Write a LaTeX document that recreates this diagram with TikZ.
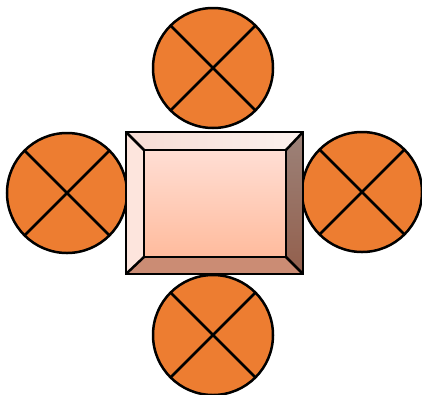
\documentclass[tikz,border=0pt]{standalone}
\usetikzlibrary{shapes.geometric}
\definecolor{orangefill}{HTML}{ED7D31}
\definecolor{topbev}{HTML}{F6DCD4}
\definecolor{leftbev}{HTML}{FDE5DD}
\definecolor{rightbevA}{HTML}{9C8279}
\definecolor{rightbevB}{HTML}{935F4C}
\definecolor{botbev}{HTML}{CB8C74}
\definecolor{innerA}{HTML}{FFDED4}
\definecolor{innerB}{HTML}{FFBB9D}
\tikzset{
  wheel/.style={circle, draw=black, fill=orangefill, line width=2.5pt, minimum size=120pt, inner sep=0pt, outer sep=0pt},
  xline/.style={draw=black, line width=2.5pt},
  bevel/.style={draw=black, line width=2.5pt, line join=miter},
}
\begin{document}
\begin{tikzpicture}[x=1pt,y=-1pt]
\useasboundingbox (0,0) rectangle (422,394);
\fill[white] (0,0) rectangle (422,394);
% wheels
\node[wheel] (top) at (213,68) {};
\node[wheel] (left) at (67,193) {};
\node[wheel] (right) at (362,192) {};
\node[wheel] (bottom) at (213,335) {};
\foreach \w in {top,left,right,bottom}{
  \draw[xline] (\w.north west) -- (\w.south east);
  \draw[xline] (\w.north east) -- (\w.south west);
}
% bevel box
\coordinate (A) at (126,132);
\coordinate (B) at (303,132);
\coordinate (C) at (303,274);
\coordinate (D) at (126,274);
\coordinate (a) at (144,150);
\coordinate (b) at (286,150);
\coordinate (c) at (286,257);
\coordinate (d) at (144,257);
\shade[left color=topbev, right color=topbev!40!white] (A) -- (B) -- (b) -- (a) -- cycle;
\fill[leftbev] (A) -- (a) -- (d) -- (D) -- cycle;
\shade[top color=rightbevA, bottom color=rightbevB] (B) -- (C) -- (c) -- (b) -- cycle;
\fill[botbev] (D) -- (d) -- (c) -- (C) -- cycle;
\shade[top color=innerA, bottom color=innerB] (a) rectangle (c);
\draw[bevel] (A) -- (B) -- (C) -- (D) -- cycle;
\draw[bevel] (a) -- (b) -- (c) -- (d) -- cycle;
\draw[bevel] (A) -- (a) (B) -- (b) (C) -- (c) (D) -- (d);
\end{tikzpicture}
\end{document}
